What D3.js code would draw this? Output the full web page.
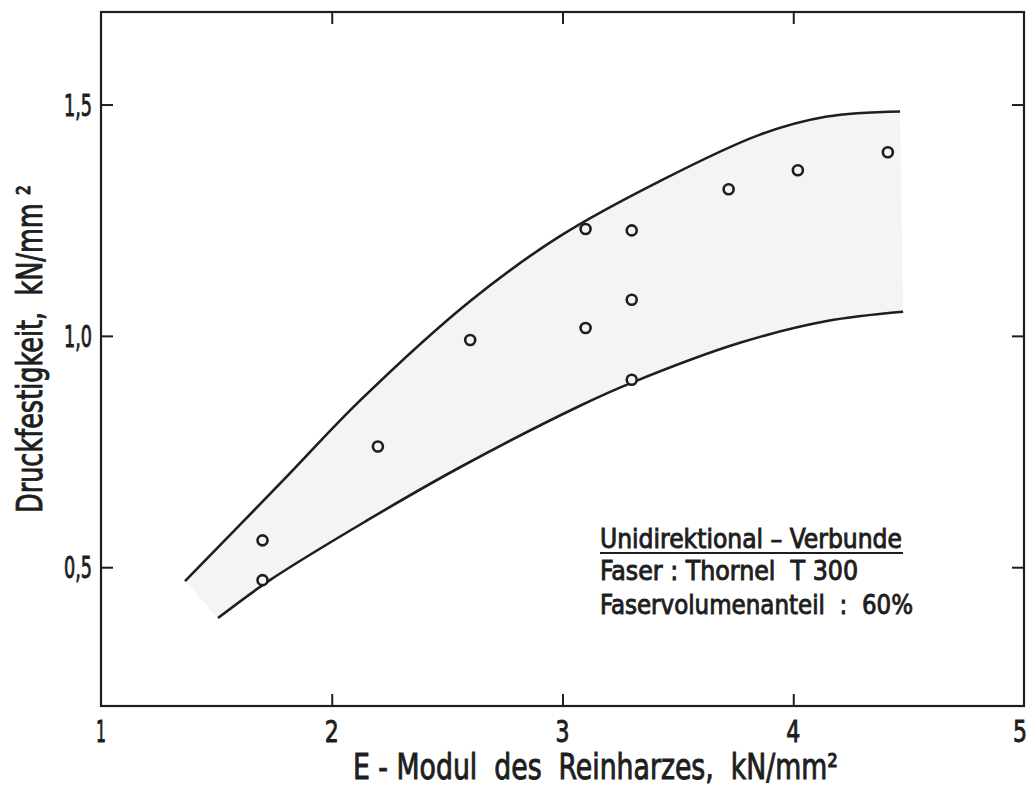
<!DOCTYPE html>
<html>
<head>
<meta charset="utf-8">
<script src="https://cdn.jsdelivr.net/npm/d3@7"></script>
<style>
  body { margin: 0; background: #fff; }
  svg text { font-family: "DejaVu Sans Condensed", "Liberation Sans Narrow", sans-serif; fill: #1e1e1e; stroke: #1e1e1e; stroke-width: 0.9; white-space: pre; }
</style>
</head>
<body>
<svg id="svg"></svg>
<script>
var svg = d3.select("#svg"),
    width = 1030,
    height = 787;
    svg.attr("width", width)
      .attr("height", height);

// measured points (E-Modul, Druckfestigkeit)
var pointsX = [1.7, 1.7, 2.2, 2.6, 3.1, 3.1, 3.3, 3.3, 3.3, 3.72, 4.02, 4.41];
var pointsY = [0.558, 0.472, 0.761, 0.991, 1.231, 1.017, 1.228, 1.078, 0.905, 1.317, 1.358, 1.397];

// upper and lower bounds of the scatter band
var upperX = [1.364, 1.789, 2.122, 2.599, 2.989, 3.42, 3.856, 4.146, 4.463];
var upperY = [0.470, 0.6875, 0.860, 1.075, 1.2155, 1.334, 1.435, 1.474, 1.485];
var lowerX = [1.507, 1.732, 2.153, 2.556, 3.076, 3.301, 3.769, 4.146, 4.476];
var lowerY = [0.390, 0.472, 0.601, 0.716, 0.849, 0.899, 0.985, 1.032, 1.052];

var xTicks = [1, 2, 3, 4, 5];
var yTicks = [0.5, 1.0, 1.5];
var xTitle = "E - Modul  des  Reinharzes,  kN/mm²";
var yTitle = "Druckfestigkeit,  kN/mm ²";
var legendTitle = "Unidirektional – Verbunde";
var legendLines = ["Faser : Thornel  T 300", "Faservolumenanteil  :  60%"];

var x = d3.scaleLinear().domain([1, 5]).range([101, 1024]);
var y = d3.scaleLinear().domain([0.2, 1.7]).range([706, 12]);

var fmt = function(d) { return d3.format(".1f")(d).replace(".", ","); };

// shaded band
var line = d3.line()
    .x(function(d) { return x(d[0]); })
    .y(function(d) { return y(d[1]); })
    .curve(d3.curveCatmullRom);

var upper = upperX.map(function(v, i) { return [v, upperY[i]]; });
var lower = lowerX.map(function(v, i) { return [v, lowerY[i]]; });

var band = line(upper) + "L" + line(lower.slice().reverse()).slice(1) + "Z";
svg.append("path")
    .attr("d", band)
    .attr("fill", "#f4f4f4")
    .attr("stroke", "none");

[upper, lower].forEach(function(c) {
  svg.append("path")
      .attr("d", line(c))
      .attr("fill", "none")
      .attr("stroke", "#1e1e1e")
      .attr("stroke-width", 2.6);
});

// frame
svg.append("rect")
    .attr("x", x(1)).attr("y", y(1.7))
    .attr("width", x(5) - x(1)).attr("height", y(0.2) - y(1.7))
    .attr("fill", "none")
    .attr("stroke", "#1e1e1e")
    .attr("stroke-width", 2.2);

// inward ticks on all four sides
var inner = xTicks.slice(1, -1);
var axB = d3.axisTop(x).tickValues(inner).tickSize(12).tickFormat("");
var axT = d3.axisBottom(x).tickValues(inner).tickSize(12).tickFormat("");
var axL = d3.axisRight(y).tickValues(yTicks).tickSize(12).tickFormat("");
var axR = d3.axisLeft(y).tickValues(yTicks).tickSize(12).tickFormat("");
svg.append("g").attr("transform", "translate(0," + y(0.2) + ")").call(axB);
svg.append("g").attr("transform", "translate(0," + y(1.7) + ")").call(axT);
svg.append("g").attr("transform", "translate(" + x(1) + ",0)").call(axL);
svg.append("g").attr("transform", "translate(" + x(5) + ",0)").call(axR);
svg.selectAll(".domain").remove();
svg.selectAll(".tick line").attr("stroke", "#1e1e1e").attr("stroke-width", 2);

// tick labels
svg.append("g").selectAll("text")
    .data(xTicks)
    .enter().append("text")
      .attr("x", function(d) { return d === 5 ? x(d) - 4 : x(d); })
      .attr("y", 742)
      .attr("text-anchor", "middle")
      .attr("font-size", 31)
      .attr("textLength", function(d) { return d === 1 ? 10 : 14; })
      .attr("lengthAdjust", "spacingAndGlyphs")
      .text(function(d) { return d; });

svg.append("g").selectAll("text")
    .data(yTicks)
    .enter().append("text")
      .attr("x", 64)
      .attr("y", function(d) { return y(d) + 11; })
      .attr("font-size", 31)
      .attr("textLength", 28)
      .attr("lengthAdjust", "spacingAndGlyphs")
      .text(fmt);

// axis titles
svg.append("text")
    .attr("x", 353)
    .attr("y", 779)
    .attr("font-size", 35)
    .attr("textLength", 485)
    .attr("lengthAdjust", "spacingAndGlyphs")
    .text(xTitle);

svg.append("text")
    .attr("transform", "translate(42,513) rotate(-90)")
    .attr("font-size", 35)
    .attr("textLength", 328)
    .attr("lengthAdjust", "spacingAndGlyphs")
    .text(yTitle);

// legend
svg.append("text")
    .attr("x", 600).attr("y", 548)
    .attr("font-size", 27)
    .attr("textLength", 302)
    .attr("lengthAdjust", "spacingAndGlyphs")
    .text(legendTitle);
svg.append("line")
    .attr("x1", 600).attr("x2", 903)
    .attr("y1", 553).attr("y2", 553)
    .attr("stroke", "#1e1e1e")
    .attr("stroke-width", 2.2);
svg.append("g").selectAll("text")
    .data(legendLines)
    .enter().append("text")
      .attr("x", 600)
      .attr("y", function(d, i) { return 580 + i * 34; })
      .attr("font-size", 27)
      .attr("textLength", function(d, i) { return i === 0 ? 258 : 313; })
      .attr("lengthAdjust", "spacingAndGlyphs")
      .text(function(d) { return d; });

// data circles
svg.append("g").selectAll("circle")
    .data(pointsX)
    .enter().append("circle")
      .attr("cx", function(d) { return x(d); })
      .attr("cy", function(d, i) { return y(pointsY[i]); })
      .attr("r", 5)
      .attr("fill", "#f4f4f4")
      .attr("stroke", "#1e1e1e")
      .attr("stroke-width", 2.6);
</script>
</body>
</html>
